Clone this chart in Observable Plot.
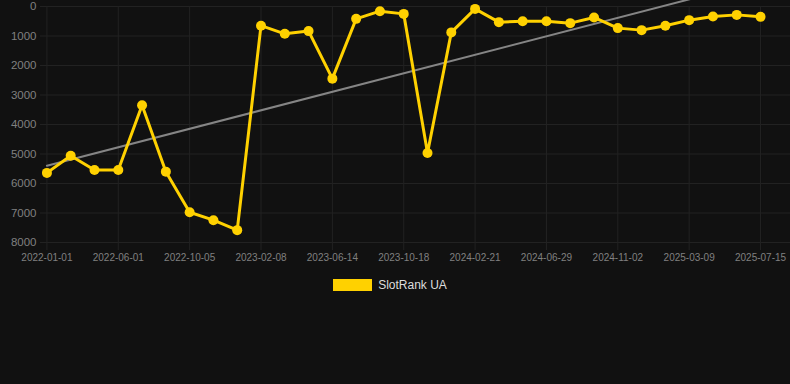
<!DOCTYPE html>
<html>
<head>
<meta charset="utf-8">
<script src="https://cdn.jsdelivr.net/npm/d3@7"></script>
<script src="https://cdn.jsdelivr.net/npm/@observablehq/plot@0.6"></script>
<style>
  html, body { margin: 0; padding: 0; background: #111111; }
  #chart svg { display: block; overflow: hidden; }
  .legend { display: flex; justify-content: center; align-items: center; margin-top: 8px; padding-right: 10px; font-family: "Liberation Sans", Arial, sans-serif; font-size: 12px; color: #dddddd; }
  .legend .sw { width: 39px; height: 12px; background: #ffd100; margin-right: 6px; }
</style>
</head>
<body>
<div id="chart"></div>
<div class="legend"><span class="sw"></span><span>SlotRank UA</span></div>
<script>
const seriesName = "SlotRank UA";
const tickLabels = ["2022-01-01","2022-06-01","2022-10-05","2023-02-08","2023-06-14","2023-10-18","2024-02-21","2024-06-29","2024-11-02","2025-03-09","2025-07-15"];
const rankValues = [5640,5057,5540,5540,3345,5598,6973,7243,7581,650,926,834,2446,419,159,250,4966,878,81,530,497,497,564,372,733,801,655,463,338,284,351];
const yTicks = [0,1000,2000,3000,4000,5000,6000,7000,8000];

const data = rankValues.map((v, i) => ({i, v}));
const xTicks = tickLabels.map((_, k) => k * 3);
const gold = "#ffd100";
const gridColor = "#222222";

const chart = Plot.plot({
  width: 790,
  height: 270,
  marginTop: 6,
  marginBottom: 28,
  marginLeft: 40,
  marginRight: 0,
  style: {background: "#111111", color: "#888888", fontFamily: "'Liberation Sans', Arial, sans-serif"},
  x: {domain: [-0.27, 31.26]},
  y: {domain: [0, 8000], reverse: true},
  marks: [
    Plot.gridY(yTicks, {stroke: gridColor, strokeOpacity: 1}),
    Plot.gridX(xTicks, {stroke: gridColor, strokeOpacity: 1}),
    Plot.axisY(yTicks, {tickSize: 0, tickPadding: 4, fontSize: 11.5, fill: "#808080", label: null, tickFormat: d => String(d)}),
    Plot.axisX(xTicks, {tickSize: 8, tickPadding: 3, fontSize: 10, stroke: gridColor, fill: "#808080", label: null, tickFormat: i => tickLabels[i / 3]}),
    Plot.linearRegressionY(data, {x: "i", y: "v", stroke: "#858585", strokeWidth: 2, ci: 0}),
    Plot.line(data, {x: "i", y: "v", stroke: gold, strokeWidth: 3}),
    Plot.dot(data, {x: "i", y: "v", r: 5, fill: gold})
  ]
});
document.getElementById("chart").appendChild(chart);
</script>
</body>
</html>
